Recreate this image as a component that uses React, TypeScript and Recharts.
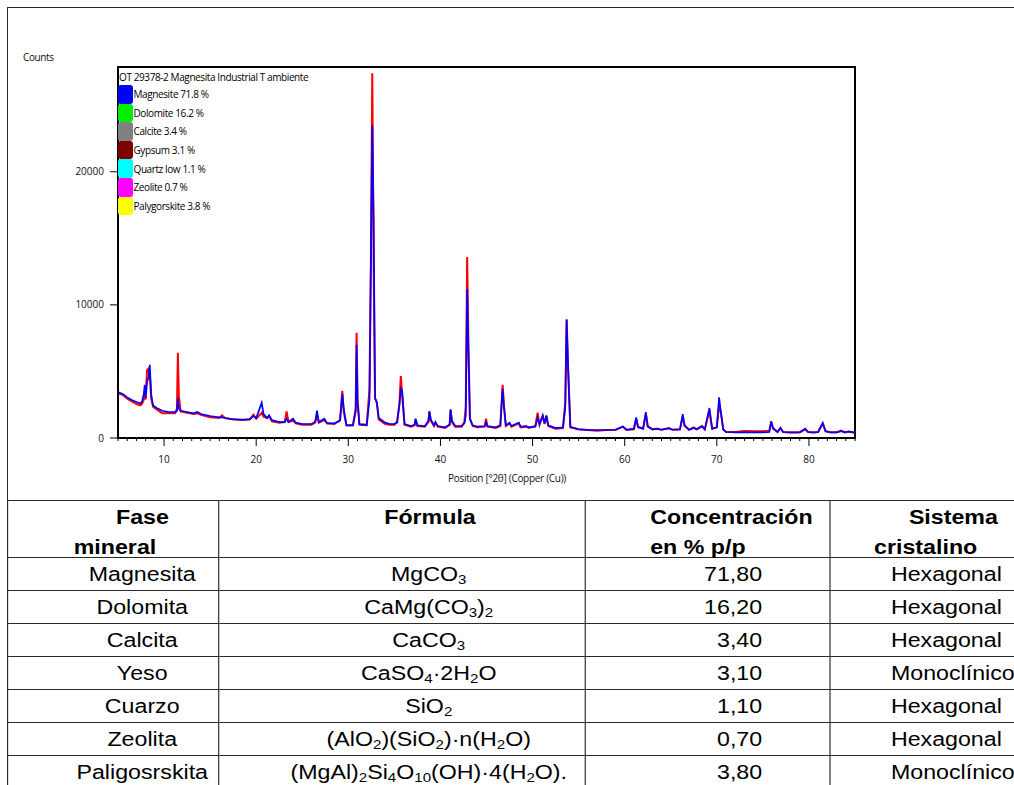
import React from 'react';
import { LineChart, Line, XAxis, YAxis, ReferenceArea } from 'recharts';

// 2theta positions (degrees) and counts
const theta = [
  5.0, 5.5, 6.0, 6.5, 7.0, 7.4, 7.6, 7.8, 7.9, 8.0, 8.15, 8.3, 8.45, 8.6, 8.8, 9.2, 9.8, 10.5, 11.2, 11.4,
  11.5, 11.6, 11.8, 12.5, 13.2, 13.6, 14.0, 15.0, 16.0, 16.3, 16.6, 17.5, 18.5, 19.3, 19.7, 20.0, 20.6, 20.8, 21.2, 21.4,
  21.7, 22.5, 23.1, 23.3, 23.5, 24.0, 24.3, 25.0, 26.0, 26.4, 26.6, 26.8, 27.4, 27.7, 28.5, 29.1, 29.35, 29.5, 29.8, 30.5,
  30.8, 30.9, 31.0, 31.2, 32.0, 32.3, 32.45, 32.6, 32.75, 32.9, 33.1, 33.3, 33.6, 34.0, 34.5, 35.0, 35.3, 35.55, 35.7, 35.85,
  36.1, 36.8, 37.2, 37.3, 37.5, 38.3, 38.7, 38.8, 38.95, 39.3, 39.45, 39.7, 40.5, 41.0, 41.1, 41.25, 41.6, 42.3, 42.6, 42.75,
  42.9, 43.05, 43.2, 43.5, 44.0, 44.8, 44.95, 45.1, 46.0, 46.5, 46.75, 46.9, 47.1, 47.5, 47.7, 48.5, 48.7, 49.3, 49.6, 50.3,
  50.55, 50.75, 51.1, 51.3, 51.5, 51.7, 52.5, 53.3, 53.55, 53.7, 53.85, 54.1, 55.0, 56.0, 57.0, 58.0, 59.0, 59.8, 60.2, 61.0,
  61.25, 61.45, 62.0, 62.3, 62.5, 63.0, 63.5, 64.0, 64.8, 65.2, 66.0, 66.3, 66.5, 67.0, 67.5, 67.8, 68.4, 68.7, 69.2, 69.35,
  69.5, 70.0, 70.25, 70.45, 70.7, 71.0, 72.0, 73.0, 74.0, 75.0, 75.7, 75.9, 76.1, 76.6, 76.9, 77.2, 78.0, 79.0, 79.6, 79.9,
  80.5, 81.0, 81.5, 81.8, 82.3, 83.0, 83.5, 83.9, 84.3, 85.0,
];

const observed = [
  3350, 3250, 2950, 2750, 2550, 2450, 2550, 2900, 3100, 2900, 5100, 5200, 4800, 3000, 2350, 2150, 1850, 1850, 1850, 2200,
  6400, 3200, 2000, 1900, 1800, 1850, 1750, 1550, 1500, 1700, 1500, 1400, 1350, 1400, 1750, 1450, 1900, 1600, 1500, 1650,
  1250, 1150, 1200, 2000, 1200, 1300, 1100, 1000, 1000, 1150, 1700, 1150, 1350, 1100, 1050, 1350, 3550, 2000, 950, 950,
  2200, 7900, 3000, 1050, 1000, 3700, 13000, 27400, 13000, 3000, 2600, 1400, 1250, 1050, 1000, 1000, 1250, 2600, 4650, 3200,
  1000, 850, 950, 1400, 900, 850, 1200, 2000, 1300, 900, 1150, 850, 750, 1000, 2100, 1200, 850, 850, 1200, 2400,
  13600, 6700, 1500, 900, 800, 850, 1450, 850, 750, 900, 4000, 2400, 900, 1100, 850, 1100, 800, 850, 750, 900,
  1900, 1000, 1650, 1050, 1650, 900, 700, 750, 2700, 8900, 5400, 800, 650, 600, 550, 600, 600, 850, 600, 650,
  1400, 850, 700, 1800, 900, 650, 700, 620, 750, 620, 650, 1600, 900, 620, 800, 650, 900, 650, 2100, 1300,
  700, 800, 2500, 1900, 650, 450, 450, 520, 500, 500, 550, 1200, 700, 450, 750, 450, 420, 420, 650, 450,
  420, 450, 1100, 500, 430, 430, 550, 420, 480, 380,
];

const calculated = [
  3450, 3300, 3050, 2850, 2700, 2600, 2700, 3300, 4000, 3000, 4200, 4500, 5500, 3300, 2450, 2250, 2050, 1950, 1950, 2050,
  3000, 2200, 2050, 1950, 1850, 1950, 1800, 1650, 1550, 1550, 1500, 1400, 1380, 1400, 1650, 1500, 2650, 1800, 1500, 1700,
  1350, 1200, 1200, 1450, 1200, 1450, 1150, 1050, 1050, 1200, 2050, 1200, 1450, 1100, 1100, 1300, 3300, 2200, 950, 950,
  2000, 7000, 2700, 1000, 950, 2900, 13400, 23500, 16500, 3000, 2700, 1500, 1350, 1150, 1050, 1050, 1150, 2500, 3700, 3500,
  1050, 900, 1000, 1450, 950, 900, 1300, 2000, 1400, 950, 1200, 900, 800, 1000, 2150, 1300, 900, 900, 1100, 1700,
  11200, 6000, 1400, 950, 850, 900, 1200, 900, 800, 950, 3700, 2300, 950, 1150, 900, 1150, 850, 900, 800, 850,
  1500, 1050, 1700, 1100, 1700, 950, 750, 800, 2300, 8900, 5400, 850, 650, 600, 600, 600, 620, 870, 620, 700,
  1550, 800, 700, 1950, 850, 650, 700, 620, 720, 620, 650, 1800, 950, 620, 750, 650, 870, 650, 2250, 1400,
  700, 800, 3050, 1850, 650, 450, 430, 430, 430, 430, 450, 1270, 750, 450, 750, 450, 420, 430, 700, 450,
  420, 450, 1120, 520, 430, 430, 520, 430, 480, 420,
];

const yTicks = [0, 10000, 20000];
const xMajorTicks = [10, 20, 30, 40, 50, 60, 70, 80];
const xMinorTicks = [
  5, 6, 7, 8, 9, 10, 11, 12, 13, 14, 15, 16, 17, 18, 19, 20, 21, 22, 23, 24, 25, 26, 27, 28, 29, 30,
  31, 32, 33, 34, 35, 36, 37, 38, 39, 40, 41, 42, 43, 44, 45, 46, 47, 48, 49, 50, 51, 52, 53, 54, 55,
  56, 57, 58, 59, 60, 61, 62, 63, 64, 65, 66, 67, 68, 69, 70, 71, 72, 73, 74, 75, 76, 77, 78, 79, 80,
  81, 82, 83, 84, 85,
];

const legendTitle = 'OT 29378-2 Magnesita Industrial T ambiente';
const phaseNames = ['Magnesite 71.8 %', 'Dolomite 16.2 %', 'Calcite 3.4 %', 'Gypsum 3.1 %', 'Quartz low 1.1 %', 'Zeolite 0.7 %', 'Palygorskite 3.8 %'];
const phaseColors = ['#0000ff', '#00ee00', '#808080', '#800000', '#00ffff', '#ff00ff', '#ffff00'];

// table
const mineralNames = ['Magnesita', 'Dolomita', 'Calcita', 'Yeso', 'Cuarzo', 'Zeolita', 'Paligosrskita'];
const concentrations = ['71,80', '16,20', '3,40', '3,10', '1,10', '0,70', '3,80'];
const crystalSystems = ['Hexagonal', 'Hexagonal', 'Hexagonal', 'Monoclínico', 'Hexagonal', 'Hexagonal', 'Monoclínico'];

const data = theta.map((t, i) => ({ t, obs: observed[i], calc: calculated[i] }));

const chartFont = '"Open Sans", "DejaVu Sans", sans-serif';
const tableFont = '"Liberation Sans", Arial, sans-serif';

const Sub = ({ children }: { children: React.ReactNode }) => (
  <sub style={{ fontSize: 13, verticalAlign: -3, lineHeight: 0 }}>{children}</sub>
);

const formulas: React.ReactNode[] = [
  <>MgCO<Sub>3</Sub></>,
  <>CaMg(CO<Sub>3</Sub>)<Sub>2</Sub></>,
  <>CaCO<Sub>3</Sub></>,
  <>CaSO<Sub>4</Sub>·2H<Sub>2</Sub>O</>,
  <>SiO<Sub>2</Sub></>,
  <>(AlO<Sub>2</Sub>)(SiO<Sub>2</Sub>)·n(H<Sub>2</Sub>O)</>,
  <>(MgAl)<Sub>2</Sub>Si<Sub>4</Sub>O<Sub>10</Sub>(OH)·4(H<Sub>2</Sub>O).</>,
];

const XTick = (props: any) => {
  const { x, y, payload } = props;
  const major = xMajorTicks.includes(payload.value);
  return (
    <g>
      <line x1={x} x2={x} y1={y} y2={y + (major ? 8 : 3)} stroke="#000" strokeWidth={1} />
      {major && (
        <text x={x} y={y + 25} textAnchor="middle" fontSize={10} fill="#111" fontFamily={chartFont}>
          {payload.value}
        </text>
      )}
    </g>
  );
};

const border = '1px solid #2a2a2a';
const colWidths = [182.2, 315.8, 211.5, 250];

const headCell: React.CSSProperties = { border, padding: 0, verticalAlign: 'top', fontWeight: 'bold' };
const headInner: React.CSSProperties = { height: 56, lineHeight: '30px', paddingTop: 1, boxSizing: 'border-box', overflow: 'visible' };

export default function App() {
  return (
    <div style={{ position: 'absolute', left: 7, top: 7, width: 1007, height: 778, overflow: 'hidden', background: '#fff' }}>
      <div style={{ position: 'absolute', left: 0, top: 0, width: 1007, height: 493, borderTop: border, borderLeft: border, boxSizing: 'border-box' }} />

      <div style={{ position: 'absolute', left: 0, top: 0 }}>
        <LineChart width={1007} height={490} data={data} margin={{ top: 60, right: 159, left: 51, bottom: 19 }}>
          <XAxis
            dataKey="t"
            type="number"
            domain={[5, 85]}
            ticks={xMinorTicks}
            interval={0}
            tick={<XTick />}
            tickLine={false}
            tickSize={0}
            tickMargin={0}
            height={40}
            axisLine={{ stroke: '#000', strokeWidth: 2 }}
            allowDataOverflow
          />
          <YAxis
            type="number"
            domain={[0, 27870]}
            ticks={yTicks}
            width={60}
            tickSize={8}
            tickMargin={6}
            tickLine={{ stroke: '#000' }}
            axisLine={{ stroke: '#000', strokeWidth: 2 }}
            tick={{ fontSize: 10, fill: '#111', fontFamily: chartFont }}
            allowDataOverflow
          />
          <Line type="linear" dataKey="obs" stroke="#ff0000" strokeWidth={2} dot={false} isAnimationActive={false} />
          <Line type="linear" dataKey="calc" stroke="#0000ff" strokeWidth={1.7} dot={false} isAnimationActive={false} />
          <ReferenceArea x1={5} x2={85} y1={0} y2={27870} fill="none" stroke="#000" strokeWidth={2} ifOverflow="visible" />
        </LineChart>
      </div>

      <div style={{ position: 'absolute', left: 16, top: 43, fontFamily: chartFont, fontSize: 10, lineHeight: '14px', letterSpacing: -0.4, color: '#111' }}>
        Counts
      </div>

      <div style={{ position: 'absolute', left: 300, width: 400, top: 464, textAlign: 'center', fontFamily: chartFont, fontSize: 10, lineHeight: '14px', letterSpacing: -0.3, color: '#111' }}>
        Position [°2θ] (Copper (Cu))
      </div>

      <div style={{ position: 'absolute', left: 111, top: 62, fontFamily: chartFont, fontSize: 10, color: '#000', letterSpacing: -0.4 }}>
        <div style={{ height: 16, lineHeight: '16px', paddingLeft: 1 }}>{legendTitle}</div>
        {phaseNames.map((name, i) => (
          <div key={name} style={{ display: 'flex', alignItems: 'center', height: 18.6 }}>
            <div style={{ width: 15, height: 18.6, background: phaseColors[i], borderRadius: 3 }} />
            <span style={{ marginLeft: 0.5, lineHeight: '18px' }}>{name}</span>
          </div>
        ))}
      </div>

      <div style={{ position: 'absolute', left: 0, top: 493, transform: 'scaleX(1.16)', transformOrigin: '0 0' }}>
        <table style={{ borderCollapse: 'collapse', tableLayout: 'fixed', width: 960, fontFamily: tableFont, fontSize: 20, color: '#000' }}>
          <colgroup>
            {colWidths.map((w, i) => <col key={i} style={{ width: w }} />)}
          </colgroup>
          <tbody>
            <tr>
              <td style={headCell}>
                <div style={headInner}>
                  <div style={{ paddingLeft: 93 }}>Fase</div>
                  <div style={{ paddingLeft: 56.5 }}>mineral</div>
                </div>
              </td>
              <td style={headCell}>
                <div style={headInner}>
                  <div style={{ paddingLeft: 142 }}>Fórmula</div>
                </div>
              </td>
              <td style={headCell}>
                <div style={headInner}>
                  <div style={{ paddingLeft: 55.5 }}>Concentración</div>
                  <div style={{ paddingLeft: 55.5 }}>en % p/p</div>
                </div>
              </td>
              <td style={headCell}>
                <div style={headInner}>
                  <div style={{ paddingLeft: 67 }}>Sistema</div>
                  <div style={{ paddingLeft: 37 }}>cristalino</div>
                </div>
              </td>
            </tr>
            {mineralNames.map((m, i) => (
              <tr key={m} style={{ height: 33 }}>
                <td style={{ border, padding: 0, paddingLeft: 50, textAlign: 'center', whiteSpace: 'nowrap' }}>{m}</td>
                <td style={{ border, padding: 0, paddingLeft: 46, textAlign: 'center', whiteSpace: 'nowrap' }}>{formulas[i]}</td>
                <td style={{ border, padding: 0, paddingRight: 58.5, textAlign: 'right', whiteSpace: 'nowrap' }}>{concentrations[i]}</td>
                <td style={{ border, padding: 0, paddingLeft: 51.5, textAlign: 'left', whiteSpace: 'nowrap' }}>{crystalSystems[i]}</td>
              </tr>
            ))}
          </tbody>
        </table>
      </div>
    </div>
  );
}
